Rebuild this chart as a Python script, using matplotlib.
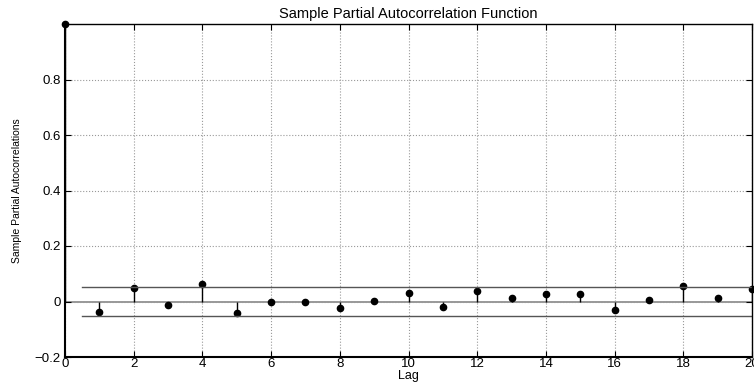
import numpy as np
import matplotlib.pyplot as plt

plt.rcParams['font.family'] = ['Liberation Sans', 'DejaVu Sans']

lags = np.arange(0, 21)
pacf = [1.0, -0.037, 0.050, -0.011, 0.062, -0.041, -0.001, -0.001, -0.023, 0.002,
        0.031, -0.019, 0.038, 0.013, 0.026, 0.027, -0.030, 0.004, 0.057, 0.011, 0.044]
bound = 0.0505

fig = plt.figure(figsize=(7.54, 3.84), dpi=100)
ax = fig.add_axes([65/754, 27/384, 687/754, 333/384])

ax.grid(True, color='#999999', linestyle=':', linewidth=0.8)
ax.axhline(0, color='#888888', linewidth=1.2, zorder=1)

ml, sl, bl = ax.stem(lags, pacf, basefmt=' ')
plt.setp(sl, color='black', linewidth=1.0)
plt.setp(ml, color='black', markersize=4.5, clip_on=False)

ax.plot([0.5, 20], [bound, bound], color='#555555', linewidth=1.0)
ax.plot([0.5, 20], [-bound, -bound], color='#555555', linewidth=1.0)

ax.set_xlim(0, 20)
ax.set_ylim(-0.2, 1.0)
ax.set_xticks(np.arange(0, 21, 2))
ax.set_yticks([-0.2, 0, 0.2, 0.4, 0.6, 0.8])
ax.set_yticklabels(['\u22120.2', '0', '0.2', '0.4', '0.6', '0.8'])
ax.tick_params(direction='in', top=True, right=True, labelsize=9.5, length=4)
ax.tick_params(axis='x', pad=1)
ax.tick_params(axis='y', pad=3)

ax.spines['left'].set_linewidth(1.5)
ax.spines['bottom'].set_linewidth(1.5)
ax.spines['top'].set_linewidth(1.0)
ax.spines['right'].set_linewidth(1.0)

ax.set_title('Sample Partial Autocorrelation Function', fontsize=10.5, pad=4)
ax.set_xlabel('Lag', fontsize=9, labelpad=0)
ax.set_ylabel('Sample Partial Autocorrelations', fontsize=7.5, labelpad=9)

fig.savefig('out.png', dpi=100)
